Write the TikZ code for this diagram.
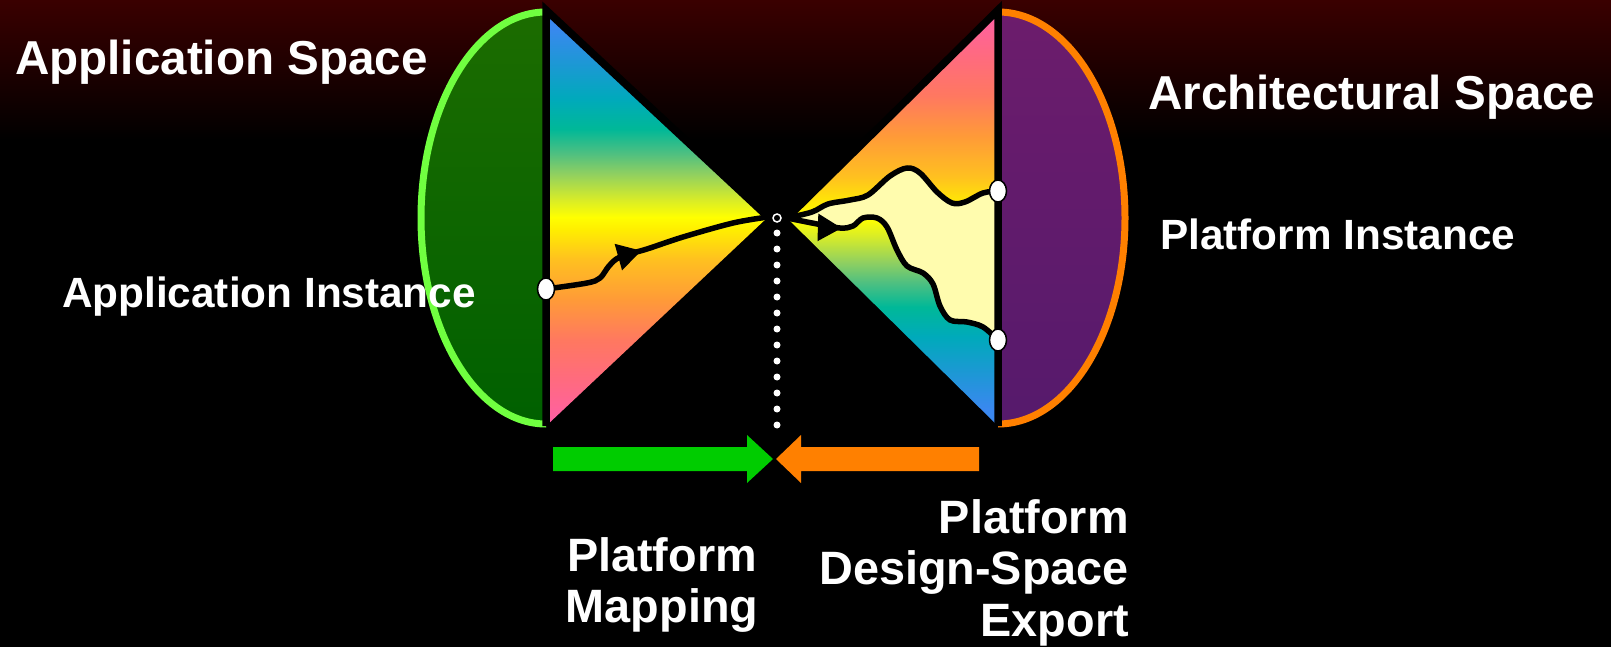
\documentclass[tikz,border=0pt]{standalone}
\usepackage{fontspec}
\setmainfont{Liberation Sans}
\usetikzlibrary{shapes,arrows.meta,positioning,calc,decorations.markings}

\definecolor{bgred}{HTML}{3A0000}
\definecolor{appgreen}{HTML}{006000}
\definecolor{appgreentop}{HTML}{1C6C00}
\definecolor{appedge}{HTML}{70FF40}
\definecolor{archpurple}{HTML}{561A6C}
\definecolor{archpurpletop}{HTML}{6C1C6C}
\definecolor{archedge}{HTML}{FF8000}
\definecolor{paleyellow}{HTML}{FFFCAE}
\definecolor{mapgreen}{HTML}{00CC00}
\definecolor{exportorange}{HTML}{FF8000}
\definecolor{spA}{HTML}{FF5FA8}
\definecolor{spB}{HTML}{FF6A80}
\definecolor{spC}{HTML}{FF7860}
\definecolor{spD}{HTML}{FF9A38}
\definecolor{spE}{HTML}{FFC020}
\definecolor{spF}{HTML}{FFEE00}
\definecolor{spG}{HTML}{FFFF00}
\definecolor{spH}{HTML}{D8EC28}
\definecolor{spI}{HTML}{90D060}
\definecolor{spJ}{HTML}{50C080}
\definecolor{spK}{HTML}{00B898}
\definecolor{spL}{HTML}{00AABB}
\definecolor{spM}{HTML}{1C98D4}
\definecolor{spN}{HTML}{3A88F0}

\pgfdeclareverticalshading{spectrum}{100bp}{color(0bp)=(spA); color(25bp)=(spA);
  color(30.4bp)=(spB); color(35.3bp)=(spC); color(40.1bp)=(spD); color(45bp)=(spE);
  color(48.6bp)=(spF); color(50.1bp)=(spG); color(52.2bp)=(spH); color(55.3bp)=(spI);
  color(57.7bp)=(spJ); color(60.7bp)=(spK); color(64.3bp)=(spL); color(68.5bp)=(spM);
  color(73bp)=(spN); color(100bp)=(spN)}

\begin{document}
\begin{tikzpicture}[x=1pt, y=-1pt,
    spacelabel/.style={text=white, inner sep=0pt, font=\fontsize{47.6}{52}\selectfont\bfseries},
    instlabel/.style={text=white, inner sep=0pt, font=\fontsize{42.3}{46}\selectfont\bfseries},
    steplabel/.style={text=white, inner sep=0pt, font=\fontsize{46.8}{51.5}\selectfont\bfseries},
    endpt/.style={ellipse, draw=black, line width=1.5pt, fill=white, minimum width=17pt, minimum height=22pt, inner sep=0pt},
    trace/.style={black, line width=5.5pt, line cap=round, line join=round},
    midarrow/.style={postaction={decorate}, decoration={markings, mark=at position #1 with {\arrow{Triangle[length=24pt,width=26pt]}}}}]
    \useasboundingbox (0,0) rectangle (1611,647);

    % Background
    \fill[black] (0,0) rectangle (1611,647);
    \shade[top color=bgred, bottom color=black] (0,0) rectangle (1611,140);

    % Corner points of the two cones
    \coordinate (apptop) at (546,10);
    \coordinate (appbot) at (546,426);
    \coordinate (appapex) at (768,217);
    \coordinate (archtop) at (998,10);
    \coordinate (archbot) at (998,426);
    \coordinate (archapex) at (787,218);
    \coordinate (appfoot) at (546,289);
    \coordinate (archfoot1) at (998,191);
    \coordinate (archfoot2) at (998,340);

    % Application space (left half ellipse)
    \begin{scope}
        \clip (0,0) rectangle (546,647);
        \draw[appedge, line width=7pt, top color=appgreentop, bottom color=appgreen] (546,218) ellipse [x radius=125, y radius=206];
    \end{scope}

    % Architectural space (right half ellipse)
    \begin{scope}
        \clip (998,0) rectangle (1611,647);
        \draw[archedge, line width=7pt, top color=archpurpletop, bottom color=archpurple] (998,218) ellipse [x radius=127, y radius=206];
    \end{scope}

    % Cones
    \shade[shading=spectrum] (apptop) -- (appapex) -- (appbot) -- cycle;
    \shade[shading=spectrum, shading angle=180] (archtop) -- (archapex) -- (archbot) -- cycle;

    % Region between the platform instances
    \fill[paleyellow] plot[smooth, tension=0.55] coordinates {(archapex) (812,212) (828,204) (850,200) (868,195) (890,176) (907,168) (920,173) (937,192) (952,203) (965,202) (983,193) (archfoot1)}
        -- plot[smooth, tension=0.55] coordinates {(archfoot2) (983,327) (967,322) (950,320) (940,306) (933,284) (923,273) (907,266) (897,250) (887,227) (877,218) (863,218) (853,226) (840,228) (812,223) (archapex)} -- cycle;

    % Cone edges
    \draw[line width=7.5pt] (appapex) -- (apptop) -- (appbot);
    \draw[line width=7.5pt] (archapex) -- (archtop) -- (archbot);

    % Mapping paths
    \draw[trace, midarrow=0.45] plot[smooth, tension=0.55] coordinates {(appfoot) (587,283) (600,278) (609,266) (620,257) (647,249) (683,237) (733,223) (appapex)};
    \draw[trace] plot[smooth, tension=0.55] coordinates {(archapex) (812,212) (828,204) (850,200) (868,195) (890,176) (907,168) (920,173) (937,192) (952,203) (965,202) (983,193) (archfoot1)};
    \draw[trace, midarrow=0.2] plot[smooth, tension=0.55] coordinates {(archapex) (812,223) (840,228) (853,226) (863,218) (877,218) (887,227) (897,250) (907,266) (923,273) (933,284) (940,306) (950,320) (967,322) (983,327) (archfoot2)};

    % Instances
    \node[endpt] (appdot) at (appfoot) {};
    \node[endpt] (archdot1) at (archfoot1) {};
    \node[endpt] (archdot2) at (archfoot2) {};

    % Meeting point and dotted line
    \node[circle, draw=white, fill=black, line width=1.5pt, minimum size=8pt, inner sep=0pt] (hub) at (777,218) {};
    \foreach \k in {0,...,12}
        \fill[white] ($(hub)+(0,15+16*\k)$) circle (3.5);

    % Mapping and export arrows
    \fill[mapgreen] (553,447) -- (747,447) -- (747,435) -- (773,459) -- (747,483) -- (747,471) -- (553,471) -- cycle;
    \fill[exportorange] (979,447) -- (801,447) -- (801,435) -- (776,459) -- (801,483) -- (801,471) -- (979,471) -- cycle;

    % Labels
    \node[spacelabel, anchor=base west] (appspace) at (15,75) {Application Space};
    \node[spacelabel, anchor=base west] (archspace) at (1148,110) {Architectural Space};
    \node[instlabel, anchor=base west] (platinst) at (1160,249) {Platform Instance};
    \node[instlabel, anchor=base west] (appinst) at (62,307) {Application Instance};
    \node[steplabel, align=center, anchor=south] (mapping) at (662,633) {Platform\\Mapping};
    \node[steplabel, align=right, anchor=south east] (export) at (1129,646) {Platform\\Design-Space\\Export};
\end{tikzpicture}
\end{document}
